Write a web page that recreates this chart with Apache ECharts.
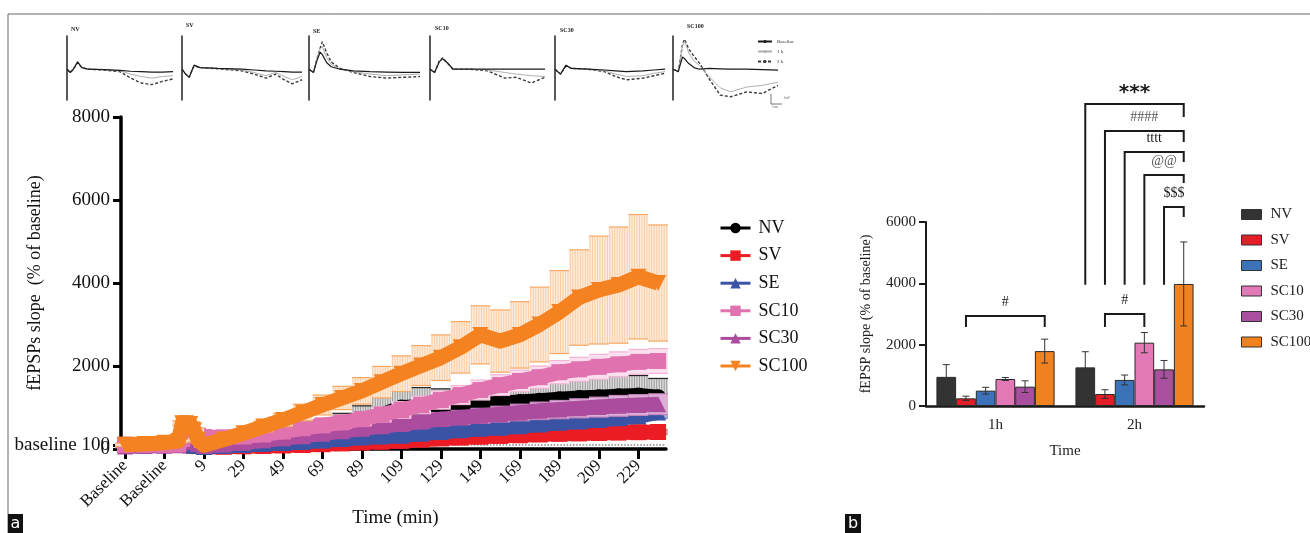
<!DOCTYPE html>
<html><head><meta charset="utf-8">
<script src="https://cdn.jsdelivr.net/npm/echarts/dist/echarts.min.js"></script>
<style>html,body{margin:0;padding:0;background:#fff}#c{width:1310px;height:533px}</style>
</head><body><div id="c"></div>
<script>
// ---------- Panel a: time course ----------
const tickMinutes = [-31,-11,9,29,49,69,89,109,129,149,169,189,209,229];
const tickLabels = ['Baseline','Baseline','9','29','49','69','89','109','129','149','169','189','209','229'];
const mainMinutes = [-31,-21,-11,-4,-2,0,2,4,6,9,19,29,39,49,59,69,79,89,99,109,119,129,139,149,159,169,179,189,199,209,219,229,239];
const nvMean   = [100,100,100,100,150,160,150,130,110, 70,110,160,220,290,370,460,560,680,820, 1000,1020,1000,1040,1070,1100,1130,1160,1200,1230, 1250,1270,1290,1250];
const nvErr    = [30,30,30,30,40,40,40,40,40, 40,60,90,120,160,200,250,300,360,430, 470,460,450,460,470,480,490,500,500,500, 500,490,480,450];
const svMean   = [100,100,100,100,110,100,90,80,70, 50,55,65,72,85,96,115,135,155,175, 195,225,255,275,295,315,330,350,365,375, 385,395,405,410];
const svErr    = [20,20,20,20,20,20,20,20,20, 20,20,25,25,30,30,35,35,40,40, 45,45,50,50,50,55,55,55,60,60, 60,60,60,60];
const seMean   = [100,100,100,100,110,100,90,80,70, 50,70,95,120,145,170,205,240,275,300, 320,370,410,450,490,510,550,590,630,660, 700,740,790,880];
const seErr    = [20,20,20,20,20,20,20,20,20, 20,25,30,35,40,45,50,55,60,65, 70,75,80,85,90,95,100,105,110,115, 120,125,130,140];
const sc10Mean = [100,100,100,110,250,330,350,340,320, 290,280,300,350,420,500,570,640,720,830, 940,1060,1180,1300,1420,1540,1640,1730,1850,1920, 1980,2040,2100,2120];
const sc10Err  = [40,40,40,40,60,60,60,60,60, 60,70,80,90,100,110,120,140,160,180, 200,210,220,230,240,250,260,270,280,290, 300,300,300,300];
const sc30Mean = [60,70,80,90,200,220,200,160,120, 70,110,150,210,260,310,370,430,490,550, 600,660,720,760,800,840,880,920,950,980, 1010,1040,1060,1080];
const sc30Err  = [30,30,30,30,40,40,40,40,40, 40,50,60,70,80,90,100,110,120,130, 140,150,160,170,180,190,200,210,220,230, 240,250,250,250];
const sc100Mean= [100,120,150,190,620,620,600,450,220, 90,230,380,540,700,880,1060,1230,1400,1610, 1815,2010,2200,2450,2750,2600,2750,3000,3300,3650, 3830,3950,4150,4000];
const sc100Err = [40,40,40,40,60,60,60,60,50, 50,80,100,130,160,200,240,280,320,380, 430,480,550,620,700,750,800,900,1000,1150, 1300,1400,1500,1400];
const baselineLevel = 100;

// ---------- Inset traces (x fraction of sweep, y in mV-like units) ----------
const trNVx = [0,0.03,0.06,0.1,0.14,0.2,0.35,0.5,0.6,0.7,0.8,0.9,1.0];
const trNVbase = [0,-0.4,0,0.9,0.2,0,-0.05,-0.15,-0.25,-0.3,-0.35,-0.35,-0.3];
const trNV1h   = [0,-0.4,0,0.9,0.2,0,-0.05,-0.2,-0.6,-0.9,-1.1,-0.9,-0.8];
const trNV2h   = [0,-0.4,0,0.8,0.2,0,-0.1,-0.3,-1.1,-1.7,-1.9,-1.5,-1.2];
const trSVx = [0,0.03,0.06,0.1,0.15,0.3,0.5,0.6,0.7,0.78,0.85,0.92,1.0];
const trSVbase = [0,-0.6,-1.0,0.5,0.2,0.1,0,-0.1,-0.2,-0.25,-0.3,-0.35,-0.35];
const trSV1h   = [0,-0.6,-1.0,0.5,0.2,0.1,-0.1,-0.4,-0.8,-0.4,-0.9,-1.3,-0.9];
const trSV2h   = [0,-0.6,-1.0,0.4,0.2,0.05,-0.2,-0.6,-1.1,-0.6,-1.3,-1.8,-1.3];
const trSEx = [0,0.04,0.07,0.1,0.12,0.16,0.2,0.28,0.4,0.55,0.7,0.85,1.0];
const trSEbase = [0,-0.4,1.0,2.1,1.8,0.8,0.3,0,-0.2,-0.3,-0.35,-0.4,-0.4];
const trSE1h   = [0,-0.4,1.2,2.5,2.8,1.4,0.6,0,-0.3,-0.6,-0.8,-0.7,-0.6];
const trSE2h   = [0,-0.4,1.2,2.6,3.4,2.0,0.9,0.1,-0.4,-0.9,-1.1,-1.0,-0.9];
const trSC10x = [0,0.04,0.08,0.11,0.15,0.2,0.35,0.5,0.65,0.75,0.88,1.0];
const trSC10base = [0,-0.4,0.9,1.3,0.8,0,0,0,0,0,0,0];
const trSC101h   = [0,-0.4,0.9,1.3,0.8,0,0,-0.1,-0.4,-0.6,-0.8,-0.9];
const trSC102h   = [0,-0.4,1.0,1.4,0.8,0,0,-0.2,-1.1,-1.0,-1.7,-1.0];
const trSC30x = [0,0.05,0.1,0.15,0.3,0.45,0.55,0.65,0.8,0.9,1.0];
const trSC30base = [0,-0.6,0.5,0.1,0,-0.1,-0.2,-0.3,-0.2,-0.1,0];
const trSC301h   = [0,-0.6,0.5,0.1,0,-0.2,-0.6,-0.9,-0.8,-0.5,-0.3];
const trSC302h   = [0,-0.6,0.4,0.1,0,-0.3,-0.9,-1.3,-1.1,-0.8,-0.5];
const trSC100x = [0,0.05,0.09,0.11,0.15,0.2,0.25,0.35,0.45,0.55,0.7,0.85,1.0];
const trSC100base = [0,-0.3,1.5,1.3,0.7,0.2,0,0.1,0.05,0,0,-0.05,-0.1];
const trSC1001h   = [0,-0.3,2.8,3.5,2.0,1.0,0.5,-1.0,-2.3,-2.8,-2.2,-2.0,-1.6];
const trSC1002h   = [0,-0.3,3.0,3.7,2.5,1.6,0.8,-1.3,-3.2,-3.4,-2.8,-3.0,-2.0];
const insetNames = ['NV','SV','SE','SC10','SC30','SC100'];

// ---------- Panel b: bars ----------
const barCats = ['1h','2h'];
const barGroups = ['NV','SV','SE','SC10','SC30','SC100'];
const barNV = [950,1260],  barNVErr = [400,510];
const barSV = [250,390],   barSVErr = [70,140];
const barSE = [500,850],   barSEErr = [110,160];
const barSC10 = [880,2065], barSC10Err = [50,330];
const barSC30 = [630,1195], barSC30Err = [190,290];
const barSC100 = [1790,3980], barSC100Err = [390,1370];
const bracketCat   = [1,1,1,1,1,0,1];
const bracketFrom  = [0,1,2,3,4,1,1];
const bracketTo    = [5,5,5,5,5,5,3];
const bracketTop   = [9850,8970,8280,7530,6490,2935,3000];
const bracketFromEnd = [3950,3950,3950,3950,3950,2576,2576];
const bracketToEnd   = [9420,8610,7960,7270,6160,2576,2576];
const bracketText  = ['***','####','tttt','@@','$$$','#','#'];

// ---------- build ----------
const SERIF = 'Liberation Serif';
const colors = {NV:'#000000', SV:'#EC1C24', SE:'#3A53A4', SC10:'#E172B0', SC30:'#AC4C9F', SC100:'#F58220'};
const barColors = {NV:'#333333', SV:'#E41E26', SE:'#3C73B8', SC10:'#E279B6', SC30:'#A84FA0', SC100:'#F0821F'};
const symbols = {NV:'circle', SV:'rect', SE:'triangle', SC10:'rect', SC30:'triangle', SC100:'path://M0,0 L10,0 L5,10 Z'};
const mainData = {
  NV:[nvMean,nvErr,'#DCDCDC','#8a8a8a','#222'],
  SV:[svMean,svErr,'#F6A3A6',null,'#F07C80'],
  SE:[seMean,seErr,'#A3B1DA',null,'#7487C6'],
  SC10:[sc10Mean,sc10Err,'#FAE0EE',null,'#F2B4D5'],
  SC30:[sc30Mean,sc30Err,'#DDB0D7',null,'#C684BE'],
  SC100:[sc100Mean,sc100Err,'#FEEBD9','#F9C79B','#F6A865']
};
const drawOrder = ['NV','SV','SE','SC30','SC10','SC100'];
const plain = v => String(v);

function errRender(fill, stripe, cap){
  return function(params, api){
    const x = api.value(0), m = api.value(1), e = api.value(2);
    const p = api.coord([x, m]);
    const hi = api.coord([x, m + e])[1];
    const lo = api.coord([x, m - e])[1];
    const w = api.size([10, 0])[0];
    const x0 = p[0] - w/2;
    const ch = [{type:'rect', shape:{x:x0, y:hi, width:w, height:lo-hi}, style:{fill:fill}}];
    if (stripe) for (let sx = x0 + 1; sx < x0 + w; sx += 2.5)
      ch.push({type:'line', shape:{x1:sx,y1:hi,x2:sx,y2:lo}, style:{stroke:stripe, lineWidth:0.8}});
    ch.push({type:'line', shape:{x1:x0,y1:hi,x2:x0+w,y2:hi}, style:{stroke:cap, lineWidth:1.2}});
    ch.push({type:'line', shape:{x1:x0,y1:lo,x2:x0+w,y2:lo}, style:{stroke:cap, lineWidth:1.2}});
    return {type:'group', children:ch};
  };
}

const series = [];
drawOrder.forEach((name, i) => {
  const d = mainData[name];
  series.push({
    type:'custom', name:name+'_err', xAxisIndex:0, yAxisIndex:0, z: 10 + i*2,
    data: mainMinutes.map((t,j)=>[t, d[0][j], d[1][j]]),
    encode:{x:0, y:1}, renderItem: errRender(d[2], d[3], d[4]), silent:true
  });
  const s = {
    type:'line', name:name, xAxisIndex:0, yAxisIndex:0, z: 11 + i*2,
    data: mainMinutes.map((t,j)=>[t, d[0][j]]),
    symbol: symbols[name], symbolSize: 16, showAllSymbol:true,
    itemStyle:{color:colors[name]},
    lineStyle:{color:colors[name], width:15, join:'round'},
    silent:true
  };
  if (name === 'NV') {
    s.markLine = {silent:true, symbol:'none', label:{show:false},
      lineStyle:{type:'dotted', color:'#8a8a8a', width:1.6},
      data:[{yAxis: baselineLevel}]};
  }
  series.push(s);
});

// inset traces
const traceSets = [
  [trNVx,trNVbase,trNV1h,trNV2h],[trSVx,trSVbase,trSV1h,trSV2h],[trSEx,trSEbase,trSE1h,trSE2h],
  [trSC10x,trSC10base,trSC101h,trSC102h],[trSC30x,trSC30base,trSC301h,trSC302h],[trSC100x,trSC100base,trSC1001h,trSC1002h]
];
const insetLeft = [67,182,309,430,555,673], insetW = [106,120,111,115,110,105];
const traceStyles = [
  ['Baseline',{color:'#1a1a1a', width:1.2, type:'solid'}],
  ['1 h',{color:'#b0b0b0', width:1.0, type:'solid'}],
  ['2 h',{color:'#3a3a3a', width:1.4, type:[3,2]}]
];
traceSets.forEach((ts, g) => {
  for (let k = 0; k < 3; k++) {
    series.push({
      type:'line', name:traceStyles[k][0], xAxisIndex:g+1, yAxisIndex:g+2,
      data: ts[0].map((x,j)=>[x, ts[k+1][j]]), symbol:'none', silent:true,
      lineStyle: traceStyles[k][1], itemStyle:{color:traceStyles[k][1].color}, z: 5 + (2-k)
    });
  }
});

// bars
const barVals = {NV:[barNV,barNVErr], SV:[barSV,barSVErr], SE:[barSE,barSEErr], SC10:[barSC10,barSC10Err], SC30:[barSC30,barSC30Err], SC100:[barSC100,barSC100Err]};
barGroups.forEach(n => {
  series.push({type:'bar', name:'bar_'+n, xAxisIndex:7, yAxisIndex:8, data:barVals[n][0],
    barCategoryGap:'15%', barGap:'0%', silent:true,
    itemStyle:{color:barColors[n], borderColor:'#2a2a2a', borderWidth:1}});
});
const barErrRows = [];
barGroups.forEach((n,k) => barCats.forEach((c,ci) => barErrRows.push([ci, k, barVals[n][0][ci], barVals[n][1][ci]])));
series.push({
  type:'custom', name:'barErr', xAxisIndex:7, yAxisIndex:8, z:20, silent:true,
  data: barErrRows, encode:{x:0, y:2},
  renderItem(params, api){
    const ci = api.value(0), k = api.value(1), m = api.value(2), e = api.value(3);
    const bw = api.size([1,0])[0]*0.85/6;
    const c = api.coord([ci, m]);
    const x = c[0] + (k-2.5)*bw;
    const hi = api.coord([ci, m+e])[1], lo = api.coord([ci, Math.max(0,m-e)])[1];
    const st = {stroke:'#333', lineWidth:1};
    return {type:'group', children:[
      {type:'line', shape:{x1:x,y1:hi,x2:x,y2:lo}, style:st},
      {type:'line', shape:{x1:x-3.5,y1:hi,x2:x+3.5,y2:hi}, style:st},
      {type:'line', shape:{x1:x-3.5,y1:lo,x2:x+3.5,y2:lo}, style:st}
    ]};
  }
});
series.push({
  type:'custom', name:'brackets', xAxisIndex:7, yAxisIndex:8, z:20, silent:true, clip:false,
  data: bracketCat.map((c,i)=>[c, bracketFrom[i], bracketTo[i], bracketTop[i], bracketFromEnd[i], bracketToEnd[i]]),
  encode:{x:0, y:3},
  renderItem(params, api){
    const ci = api.value(0), kf = api.value(1), kt = api.value(2);
    const bw = api.size([1,0])[0]*0.85/6;
    const c = api.coord([ci, api.value(3)]);
    const xf = c[0] + (kf-2.5)*bw, xt = c[0] + (kt-2.5)*bw;
    const yT = c[1], yF = api.coord([ci, api.value(4)])[1], yE = api.coord([ci, api.value(5)])[1];
    const txt = bracketText[params.dataIndex];
    const big = txt === '***';
    return {type:'group', children:[
      {type:'polyline', shape:{points:[[xf,yF],[xf,yT],[xt,yT],[xt,yE]]}, style:{stroke:'#1a1a1a', lineWidth:2, fill:null}},
      {type:'text', style:{text:txt, x:(xf+xt)/2, y: yT - (big ? 11 : 14), align:'center', verticalAlign:'middle',
        fontFamily: big ? 'DejaVu Sans' : SERIF, fontSize: big ? 20 : 14, fontWeight: big ? 'bold' : 'normal',
        fill: (txt==='####'||txt==='@@') ? '#555' : '#1a1a1a'}}
    ]};
  }
});

// axes
const xAxis = [{
  type:'value', gridIndex:0, min:-31, max:243,
  axisLine:{show:true, onZero:false, lineStyle:{color:'#000', width:3.5}},
  axisTick:{show:true, customValues: tickMinutes, length:10, lineStyle:{color:'#000', width:3}},
  axisLabel:{show:true, customValues: tickMinutes, rotate:45, margin:14, fontFamily:SERIF, fontSize:17, color:'#111',
    formatter: v => { const i = tickMinutes.indexOf(v); return i >= 0 ? tickLabels[i] : ''; }},
  splitLine:{show:false},
  name:'Time (min)', nameLocation:'middle', nameGap:60, nameMoveOverlap:false,
  nameTextStyle:{fontFamily:SERIF, fontSize:19, color:'#111'}
}];
const yAxis = [{
  type:'value', gridIndex:0, min:0, max:8000, interval:2000, offset:4,
  axisLine:{show:true, onZero:false, lineStyle:{color:'#000', width:3.5}},
  axisTick:{show:true, length:8, lineStyle:{color:'#000', width:3}},
  axisLabel:{fontFamily:SERIF, fontSize:19, color:'#111', margin:11, formatter: plain},
  splitLine:{show:false},
  name:'fEPSPs slope  (% of baseline)', nameLocation:'middle', nameGap:77, nameMoveOverlap:false,
  nameTextStyle:{fontFamily:SERIF, fontSize:18, color:'#111'}
},{
  type:'value', gridIndex:0, min:0, max:8000, offset:4, position:'left',
  axisLine:{show:false, onZero:false},
  axisTick:{show:true, customValues:[baselineLevel], length:8, lineStyle:{color:'#000', width:3}},
  axisLabel:{show:true, customValues:[baselineLevel], formatter: () => 'baseline 100', fontFamily:SERIF, fontSize:19, color:'#111', margin:11},
  splitLine:{show:false}
}];
const grids = [{left:125, top:117, width:541, height:332, outerBoundsMode:'none', containLabel:false}];
insetLeft.forEach((l,i) => {
  grids.push({left:l, top:36, width:insetW[i], height:64, outerBoundsMode:'none', containLabel:false});
  xAxis.push({type:'value', gridIndex:i+1, min:0, max:1, show:false});
  yAxis.push({type:'value', gridIndex:i+1, min:-3.8, max:4.1, show:true,
    axisLine:{show:true, onZero:false, lineStyle:{color:'#222', width:1.5}},
    axisTick:{show:false}, axisLabel:{show:false}, splitLine:{show:false}});
});
grids.push({left:926, top:222, width:278, height:184, outerBoundsMode:'none', containLabel:false});
xAxis.push({type:'category', gridIndex:7, data:barCats,
  axisLine:{lineStyle:{color:'#1a1a1a', width:2.5}},
  axisTick:{alignWithLabel:true, length:8, lineStyle:{color:'#1a1a1a', width:2}},
  axisLabel:{fontFamily:SERIF, fontSize:15, color:'#222', margin:12},
  name:'Time', nameLocation:'middle', nameGap:38, nameMoveOverlap:false,
  nameTextStyle:{fontFamily:SERIF, fontSize:15, color:'#222'}});
yAxis.push({type:'value', gridIndex:7, min:0, max:6000, interval:2000,
  axisLine:{show:true, onZero:false, lineStyle:{color:'#1a1a1a', width:2}},
  axisTick:{show:true, length:7, lineStyle:{color:'#1a1a1a', width:2}},
  axisLabel:{fontFamily:SERIF, fontSize:15, color:'#222', margin:10, formatter: plain},
  splitLine:{show:false},
  name:'fEPSP slope (% of baseline)', nameLocation:'middle', nameGap:53, nameMoveOverlap:false,
  nameTextStyle:{fontFamily:SERIF, fontSize:14, color:'#222'}});

const insetTitlePos = [[71,26],[186,22],[313,28],[435,25],[560,27],[687,23]];
const titles = insetNames.map((n,i)=>({text:n, left:insetTitlePos[i][0], top:insetTitlePos[i][1], padding:0,
  textStyle:{fontFamily:SERIF, fontSize:6, fontWeight:'bold', color:'#222'}}));

const option = {
  animation:false,
  backgroundColor:'#fff',
  title: titles,
  grid: grids, xAxis: xAxis, yAxis: yAxis,
  legend:[{
    data: barGroups, orient:'vertical', left:714, top:214, itemWidth:30, itemHeight:13, itemGap:9.6,
    selectedMode:false, lineStyle:{width:3},
    textStyle:{fontFamily:SERIF, fontSize:18, color:'#111', padding:[0,0,0,3]}
  },{
    data: barGroups.map(n=>'bar_'+n), orient:'vertical', left:1236, top:202, itemWidth:20, itemHeight:10, itemGap:10.5,
    icon:'rect', selectedMode:false, formatter: n => n.replace('bar_',''),
    itemStyle:{borderColor:'#333', borderWidth:1},
    textStyle:{fontFamily:SERIF, fontSize:15, color:'#222', padding:[0,0,0,4]}
  },{
    data:['Baseline','1 h','2 h'], orient:'vertical', left:752, top:34, itemWidth:14, itemHeight:4, itemGap:5,
    selectedMode:false, textStyle:{fontFamily:SERIF, fontSize:5, color:'#333'}
  }],
  graphic:[
    {type:'line', shape:{x1:8,y1:14,x2:1310,y2:14}, style:{stroke:'#666', lineWidth:1}},
    {type:'line', shape:{x1:8,y1:14,x2:8,y2:533}, style:{stroke:'#666', lineWidth:1}},
    {type:'rect', shape:{x:8,y:514,width:15,height:19}, style:{fill:'#111'}},
    {type:'text', style:{text:'a', x:15.5, y:524, align:'center', verticalAlign:'middle', fill:'#fff', fontFamily:'DejaVu Sans', fontSize:16}},
    {type:'rect', shape:{x:845,y:514,width:16,height:19}, style:{fill:'#111'}},
    {type:'text', style:{text:'b', x:853, y:524, align:'center', verticalAlign:'middle', fill:'#fff', fontFamily:'DejaVu Sans', fontSize:16}},
    {type:'polyline', shape:{points:[[771,94],[771,104],[782,104]]}, style:{stroke:'#555', lineWidth:0.8, fill:null}},
    {type:'text', style:{text:'1mV', x:784, y:97, fill:'#555', fontSize:3, fontFamily:SERIF}},
    {type:'text', style:{text:'5 ms', x:772, y:106, fill:'#555', fontSize:3, fontFamily:SERIF}}
  ],
  series: series
};
const chart = echarts.init(document.getElementById('c'), null, {renderer:'canvas'});
chart.setOption(option);
</script></body></html>
